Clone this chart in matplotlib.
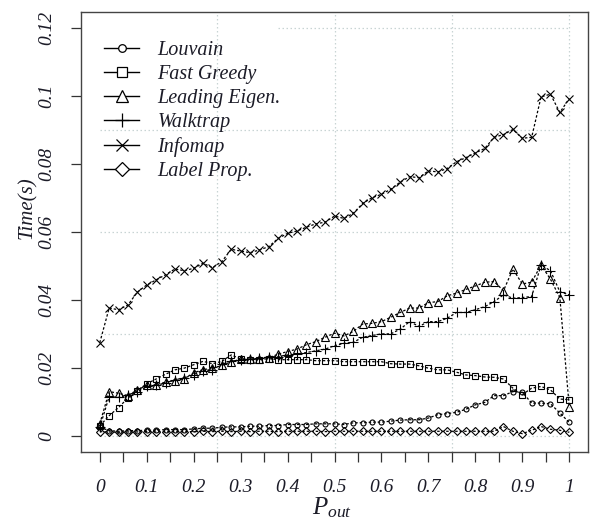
import matplotlib
matplotlib.use("Agg")
from matplotlib import pyplot as plt
from matplotlib.lines import Line2D

p_out = [round(0.02 * i, 2) for i in range(51)]

louvain = [0.0025, 0.0015, 0.0013, 0.0015, 0.0015, 0.0016, 0.0016, 0.0018, 0.0018, 0.0018,
           0.0020, 0.0022, 0.0022, 0.0025, 0.0026, 0.0026, 0.0028, 0.0028, 0.0030, 0.0030,
           0.0033, 0.0033, 0.0033, 0.0035, 0.0035, 0.0035, 0.0033, 0.0038, 0.0038, 0.0040,
           0.0040, 0.0043, 0.0046, 0.0047, 0.0047, 0.0052, 0.0062, 0.0065, 0.0069, 0.0078,
           0.0091, 0.0098, 0.0118, 0.0118, 0.0130, 0.0128, 0.0096, 0.0096, 0.0094, 0.0067,
           0.0039]

fast_greedy = [0.0029, 0.0059, 0.0083, 0.0111, 0.0133, 0.0153, 0.0167, 0.0181, 0.0194, 0.0199,
               0.0209, 0.0219, 0.0212, 0.0219, 0.0238, 0.0226, 0.0224, 0.0224, 0.0227, 0.0224,
               0.0224, 0.0224, 0.0224, 0.0221, 0.0221, 0.0221, 0.0218, 0.0218, 0.0218, 0.0218,
               0.0218, 0.0212, 0.0211, 0.0211, 0.0206, 0.0199, 0.0194, 0.0194, 0.0187, 0.0179,
               0.0177, 0.0173, 0.0172, 0.0167, 0.0140, 0.0121, 0.0140, 0.0145, 0.0135, 0.0108,
               0.0106]

leading_eigen = [0.0035, 0.0130, 0.0125, 0.0118, 0.0135, 0.0148, 0.0150, 0.0158, 0.0162, 0.0168,
                 0.0185, 0.0195, 0.0198, 0.0207, 0.0218, 0.0225, 0.0225, 0.0226, 0.0230, 0.0240,
                 0.0248, 0.0255, 0.0268, 0.0277, 0.0290, 0.0302, 0.0294, 0.0307, 0.0329, 0.0331,
                 0.0336, 0.0349, 0.0363, 0.0376, 0.0376, 0.0392, 0.0395, 0.0412, 0.0420, 0.0431,
                 0.0441, 0.0452, 0.0454, 0.0427, 0.0491, 0.0447, 0.0452, 0.0503, 0.0461, 0.0407,
                 0.0086]

walktrap = [0.0025, 0.0115, 0.0113, 0.0120, 0.0130, 0.0145, 0.0148, 0.0155, 0.0165, 0.0170,
            0.0180, 0.0192, 0.0195, 0.0210, 0.0220, 0.0222, 0.0225, 0.0228, 0.0232, 0.0233,
            0.0238, 0.0240, 0.0245, 0.0250, 0.0255, 0.0265, 0.0272, 0.0275, 0.0290, 0.0295,
            0.0300, 0.0300, 0.0314, 0.0336, 0.0322, 0.0336, 0.0336, 0.0346, 0.0363, 0.0363,
            0.0371, 0.0380, 0.0395, 0.0415, 0.0405, 0.0407, 0.0410, 0.0503, 0.0486, 0.0424,
            0.0415]

infomap = [0.0274, 0.0376, 0.0371, 0.0385, 0.0423, 0.0444, 0.0459, 0.0474, 0.0491, 0.0486,
           0.0493, 0.0508, 0.0495, 0.0513, 0.0549, 0.0544, 0.0539, 0.0547, 0.0557, 0.0581,
           0.0596, 0.0603, 0.0614, 0.0624, 0.0629, 0.0647, 0.0640, 0.0655, 0.0684, 0.0701,
           0.0711, 0.0726, 0.0747, 0.0763, 0.0760, 0.0780, 0.0777, 0.0787, 0.0807, 0.0819,
           0.0833, 0.0846, 0.0879, 0.0887, 0.0902, 0.0876, 0.0879, 0.0998, 0.1006, 0.0952,
           0.0993]

label_prop = [0.0012, 0.0011, 0.0010, 0.0011, 0.0011, 0.0012, 0.0011, 0.0012, 0.0012, 0.0012,
              0.0012, 0.0013, 0.0012, 0.0013, 0.0012, 0.0013, 0.0012, 0.0013, 0.0013, 0.0012,
              0.0013, 0.0013, 0.0013, 0.0013, 0.0012, 0.0013, 0.0013, 0.0013, 0.0013, 0.0013,
              0.0013, 0.0013, 0.0013, 0.0013, 0.0013, 0.0013, 0.0013, 0.0013, 0.0013, 0.0013,
              0.0013, 0.0013, 0.0013, 0.0027, 0.0013, 0.0006, 0.0016, 0.0027, 0.0019, 0.0016,
              0.0010]

names = ["Louvain", "Fast Greedy", "Leading Eigen.", "Walktrap", "Infomap", "Label Prop."]
series = [louvain, fast_greedy, leading_eigen, walktrap, infomap, label_prop]
markers = ["o", "s", "^", "+", "x", "D"]
plot_sizes = [3.6, 4.8, 5.2, 6.5, 5.5, 4.3]
legend_sizes = [5.5, 7, 8, 10, 8, 7]

x_ticks = [round(0.05 * i, 2) for i in range(21)]
x_labels = ["0" if t == 0 else ("1" if t == 1 else str(t)) if round(t * 10) == t * 10 else "" for t in x_ticks]
y_ticks = [0, 0.02, 0.04, 0.06, 0.08, 0.1, 0.12]
y_labels = ["0", "0.02", "0.04", "0.06", "0.08", "0.1", "0.12"]

plt.rcParams["font.family"] = "Liberation Serif"
plt.rcParams["font.style"] = "italic"
plt.rcParams["mathtext.fontset"] = "custom"
plt.rcParams["mathtext.it"] = "Liberation Serif:italic"
plt.rcParams["mathtext.rm"] = "Liberation Serif"
txt = "#1c1c28"

fig = plt.figure(figsize=(5.92, 5.19), dpi=100)
ax = fig.add_axes([81 / 592, 1 - 452 / 519, 507 / 592, 440 / 519])

# dotted background grid
grid_kw = dict(colors="#c8d4d4", linestyles=(0, (1.2, 2)), linewidth=0.9, zorder=0)
ax.hlines([0, 0.03, 0.06, 0.09], 0, 1, **grid_kw)
ax.hlines([0.12], 0.38, 1, **grid_kw)
ax.vlines([0.25, 0.5, 0.75, 1.0], -0.0048, 0.1248, **grid_kw)

for ys, m, ms in zip(series, markers, plot_sizes):
    ax.plot(p_out, ys, color="black", linestyle=(0, (2, 1.6)), linewidth=0.9,
            marker=m, markersize=ms, markerfacecolor="none", markeredgecolor="black",
            markeredgewidth=0.8, zorder=3)

ax.set_xlim(-0.04, 1.04)
ax.set_ylim(-0.0048, 0.1248)

ax.set_xticks(x_ticks)
ax.set_xticklabels(x_labels)
ax.set_yticks(y_ticks)
ax.set_yticklabels(y_labels, rotation=90, va="center")
ax.tick_params(axis="both", direction="out", length=7.5, width=0.9, color="#333333",
               labelsize=14, labelcolor=txt)
ax.tick_params(axis="x", pad=12)
ax.tick_params(axis="y", pad=11)
for s in ax.spines.values():
    s.set_color("#444444")
    s.set_linewidth(1.0)

handles = [Line2D([], [], color="black", linewidth=1, marker=m, markersize=ms,
                  markerfacecolor="white", markeredgecolor="black", markeredgewidth=0.9)
           for m, ms in zip(markers, legend_sizes)]
fig.legend(handles, names, loc="upper left", bbox_to_anchor=(104 / 592, 1 - 41 / 519),
           frameon=False, fontsize=14.5, handlelength=1.75, handletextpad=0.9,
           labelspacing=0.24, borderpad=0, borderaxespad=0, labelcolor=txt)

fig.text(27 / 592, 1 - 208 / 519, "Time(s)", rotation=90, ha="center", va="center",
         fontsize=15, color=txt)
fig.text(332 / 592, 1 - 514 / 519, r"$P_{out}$", ha="center", va="baseline",
         fontsize=18, color=txt)

fig.savefig("out.png", dpi=100)
